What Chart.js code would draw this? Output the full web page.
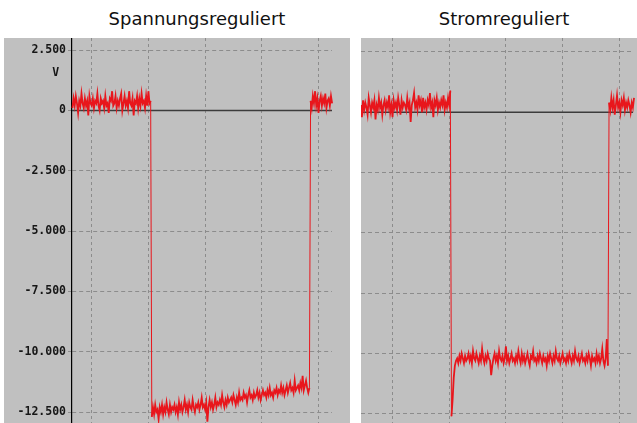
<!DOCTYPE html>
<html>
<head>
<meta charset="utf-8">
<script src="https://cdn.jsdelivr.net/npm/chart.js@4/dist/chart.umd.min.js"></script>
<style>
  body { margin: 0; width: 637px; height: 423px; background: #fff; position: relative; overflow: hidden; }
  .title { position: absolute; top: 8px; width: 300px; text-align: center; font-family: 'DejaVu Sans', sans-serif; font-size: 18px; color: #111; line-height: 22px; }
  .panel { position: absolute; top: 38px; height: 385px; background: #c0c0c0; }
  canvas { display: block; }
</style>
</head>
<body>
<div class="title" style="left:47px">Spannungsreguliert</div>
<div class="title" style="left:354px">Stromreguliert</div>
<div class="panel" style="left:4px;width:346px"><canvas id="left" width="346" height="385"></canvas></div>
<div class="panel" style="left:361px;width:276px"><canvas id="right" width="276" height="385"></canvas></div>
<script>
// sample index of the first point of each trace (one sample per step, 50 samples per grid division)
const leftStart  = -17
const rightStart = -28

// left: voltage regulated (V)
const leftHighBefore = [
  0.1,0.5,0.2,0.6,0.3,-0.1,0.4,0.2,0.7,0.3,
  0.1,0.5,0.2,0.4,-0.2,0.6,0.3,0.2,0.5,0.1,
  0.4,0.3,0.7,0.2,0.0,0.5,0.3,0.4,0.1,0.6,
  0.2,0.3,-0.1,0.5,0.4,0.8,0.2,0.3,0.6,0.1,
  0.4,0.2,0.5,0.7,0.0,0.3,0.6,0.2,0.4,0.1,
  0.8,0.3,0.2,0.5,-0.2,0.4,0.3,0.6,0.1,0.5,
  0.2,0.7,0.3,0.4,0.1,0.6,0.2,0.8,0.3,0.4
]
const leftLow = [
  -12.7,-12.3,-12.6,-12.2,-12.5,-12.4,-12.8,-12.3,-12.5,-12.2,
  -12.6,-12.3,-12.5,-12.1,-12.4,-12.6,-12.2,-12.5,-12.3,-12.4,
  -12.2,-12.5,-12.3,-12.6,-12.1,-12.4,-12.2,-12.5,-12.3,-12.0,
  -12.4,-12.2,-12.5,-12.1,-12.3,-12.4,-12.0,-12.3,-12.5,-12.2,
  -12.3,-12.1,-12.4,-12.2,-11.9,-12.3,-12.2,-12.4,-12.1,-12.9,
  -12.3,-12.0,-12.3,-12.1,-12.4,-12.2,-11.9,-12.3,-12.1,-12.2,
  -12.0,-12.2,-11.8,-12.1,-12.3,-12.0,-12.2,-11.9,-12.1,-12.0,
  -11.9,-12.1,-11.8,-12.0,-12.2,-11.9,-12.1,-11.7,-12.0,-11.9,
  -12.0,-11.7,-11.9,-11.8,-12.1,-11.8,-11.6,-11.9,-11.8,-12.0,
  -11.7,-11.9,-11.8,-11.6,-11.9,-11.7,-12.0,-11.8,-11.6,-11.8,
  -11.7,-11.9,-11.6,-11.8,-11.5,-11.8,-11.7,-11.9,-11.6,-11.7,
  -11.5,-11.8,-11.6,-11.7,-11.4,-11.7,-11.5,-11.8,-11.6,-11.4,
  -11.7,-11.5,-11.3,-11.6,-11.5,-11.7,-11.2,-11.6,-11.5,-11.4,
  -11.6,-11.3,-11.5,-11.0,-11.6,-11.4,-11.2,-11.5,-11.7,-11.5
]
const leftHighAfter = [
  0.4,0.1,0.6,0.3,0.8,0.2,0.5,-0.1,0.4,0.6,
  0.2,0.5,0.3,0.7,0.1,0.4,0.5,0.2,0.6,0.3,0.4
]

// right: current regulated (V)
const rightHighBefore = [
  0.3,-0.2,0.5,0.1,0.4,0.2,-0.1,0.6,0.3,0.0,
  0.4,0.2,0.5,-0.3,0.3,0.1,0.6,0.2,0.4,-0.1,
  0.3,0.5,0.1,0.4,0.2,0.7,0.0,0.3,-0.2,0.5,
  0.2,0.4,0.1,0.6,0.3,-0.1,0.5,0.2,0.4,0.3,
  0.1,0.6,0.2,0.4,-0.4,0.3,0.5,0.8,0.2,0.4,
  0.1,0.7,0.3,0.5,0.0,0.6,0.2,0.4,0.1,0.5,
  0.3,0.8,0.2,0.4,-0.2,0.5,0.3,0.6,0.1,0.4,
  0.2,0.5,0.3,0.7,0.1,0.4,0.2,0.6,0.3,0.9
]
const rightLow = [
  -12.6,-11.9,-11.0,-10.5,-10.3,
  -10.2,-10.4,-10.1,-10.3,-10.0,-10.2,-10.4,-10.1,-10.3,-10.2,
  -10.0,-10.3,-10.1,-10.4,-9.9,-10.2,-10.3,-10.0,-10.2,-10.4,
  -10.1,-10.3,-9.8,-10.2,-10.4,-10.1,-10.3,-10.0,-10.2,-10.3,
  -10.9,-10.5,-10.2,-10.0,-10.3,-10.1,-10.4,-9.9,-10.2,-10.3,
  -10.1,-10.4,-10.2,-9.7,-10.3,-10.1,-10.4,-10.2,-10.0,-10.3,
  -10.2,-10.4,-10.1,-10.3,-9.9,-10.2,-10.4,-10.0,-10.3,-10.1,
  -10.4,-10.2,-10.0,-10.3,-10.5,-10.1,-10.2,-9.9,-10.3,-10.2,
  -10.4,-10.1,-10.3,-10.0,-10.2,-10.4,-10.1,-10.3,-10.2,-10.5,
  -10.1,-10.3,-10.0,-10.2,-10.4,-10.1,-10.3,-9.9,-10.2,-10.3,
  -10.1,-10.4,-10.2,-10.0,-10.3,-10.2,-10.4,-10.1,-10.3,-10.0,
  -10.2,-10.4,-10.1,-10.3,-9.9,-10.2,-10.3,-10.1,-10.4,-10.2,
  -10.0,-10.3,-10.2,-10.4,-10.1,-10.3,-10.0,-10.2,-10.5,-10.1,
  -10.3,-10.2,-10.4,-10.0,-10.3,-10.1,-10.4,-10.2,-9.8,-10.3,
  -10.5,-10.2,-9.4,-10.5
]
const rightHighAfter = [
  0.4,0.1,0.6,0.2,0.5,-0.1,0.3,0.7,0.2,0.4,
  0.0,0.5,0.3,0.6,0.1,0.4,0.2,0.5,0.3,0.0,
  0.4,0.2,0.6,0.1,0.3,0.5
]

// axes
const xGridLines  = [0, 50, 100, 150, 200]
const yTickValues = [2.5, 0, -2.5, -5, -7.5, -10, -12.5]
const yTickLabels = ['2.500', '0', '-2.500', '-5.000', '-7.500', '-10.000', '-12.500']
const unitLabel   = 'V'
const unitLabelAt = 1.55
const zeroLevel   = 0

const RED  = '#e8161c'
const GRID = '#8c8c8c'

function trace(start, values) {
  return values.map((y, i) => ({ x: start + i, y }))
}

function buildChart(canvas, opts) {
  const points = trace(opts.start, opts.values)
  return new Chart(canvas, {
    type: 'line',
    data: {
      datasets: [
        { data: points, borderColor: RED, borderWidth: 1.8, pointRadius: 0, clip: false, order: 0,
          // the switching edges are drawn thin, the noisy plateaus thick
          segment: { borderWidth: c => Math.abs(c.p1.parsed.y - c.p0.parsed.y) > 5 ? 1 : 1.8 } },
        { data: [{ x: opts.xMin, y: zeroLevel }, { x: opts.xMax, y: zeroLevel }],
          borderColor: '#3c3c3c', borderWidth: 1.5, pointRadius: 0, order: 1 }
      ]
    },
    options: {
      responsive: false, animation: false,
      layout: { padding: { right: opts.padRight } },
      plugins: { legend: { display: false }, tooltip: { enabled: false } },
      scales: {
        x: {
          type: 'linear', min: opts.xMin, max: opts.xMax,
          afterBuildTicks: s => { s.ticks = xGridLines.map(v => ({ value: v })) },
          ticks: { display: false },
          grid: { color: GRID, drawTicks: false },
          border: { display: false, dash: [3, 3] }
        },
        y: {
          min: opts.yMin, max: opts.yMax,
          afterBuildTicks: s => {
            s.ticks = yTickValues.map(v => ({ value: v }))
            if (opts.labels) s.ticks.push({ value: unitLabelAt })
          },
          afterFit: s => { s.width = opts.axisWidth; s.paddingTop = 0; s.paddingBottom = 0 },
          ticks: {
            display: opts.labels, autoSkip: false, padding: 2, color: '#161616',
            font: { family: "'DejaVu Sans Mono', monospace", weight: 'bold', size: 11.5 },
            callback: v => v === unitLabelAt ? unitLabel + ' ' : yTickLabels[yTickValues.indexOf(v)]
          },
          grid: {
            color: c => (c.tick && c.tick.value === unitLabelAt) ? 'rgba(0,0,0,0)' : GRID,
            drawTicks: opts.labels, tickLength: 4
          },
          border: { display: opts.labels, color: '#000', width: 1.2, dash: [4, 3] }
        }
      }
    }
  })
}

buildChart(document.getElementById('left'), {
  start: leftStart, values: [...leftHighBefore, ...leftLow, ...leftHighAfter],
  xMin: -17.37, xMax: 211.9, yMin: -12.956, yMax: 3.006,
  axisWidth: 68, padRight: 18, labels: true
})

buildChart(document.getElementById('right'), {
  start: rightStart, values: [...rightHighBefore, ...rightLow, ...rightHighAfter],
  xMin: -27.8, xMax: 212.1, yMin: -12.88, yMax: 3.08,
  axisWidth: 0, padRight: 4, labels: false
})
</script>
</body>
</html>
